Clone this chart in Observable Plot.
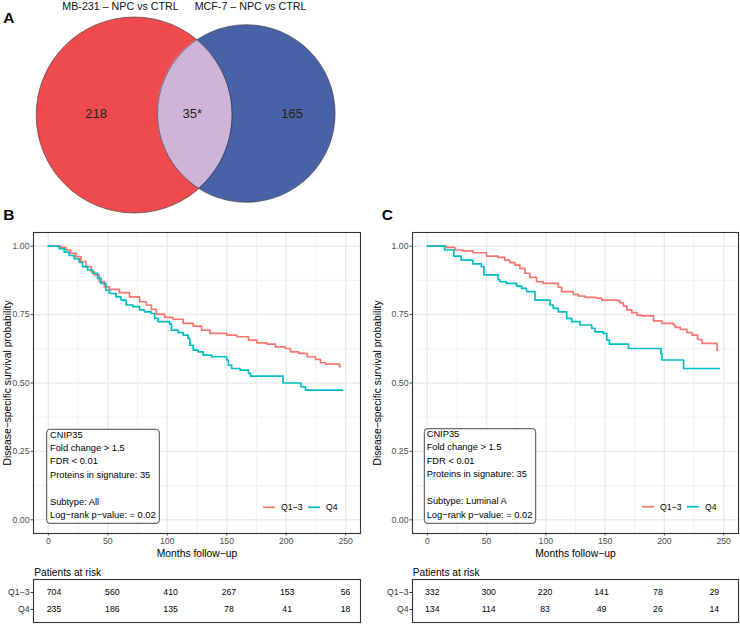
<!DOCTYPE html>
<html><head><meta charset="utf-8">
<script src="https://cdn.jsdelivr.net/npm/d3@7"></script>
<script src="https://cdn.jsdelivr.net/npm/@observablehq/plot@0.6"></script>
<style>
body{margin:0;background:#fff;font-family:"Liberation Sans",Arial,sans-serif;}
#root{position:relative;width:740px;height:624px;overflow:hidden;background:#fff;}
#root svg{position:absolute;}
</style></head><body><div id="root"></div>
<script>
// ---------------- DATA ----------------
const vennTitles = ["MB-231 – NPC vs CTRL", "MCF-7 – NPC vs CTRL"];
const vennLabels = ["218", "35*", "165"];
const groups = ["Q1−3", "Q4"];
const groupColors = ["#F8766D", "#00BFC4"];
const xTicks = [0, 50, 100, 150, 200, 250];
const xMinorTicks = [25, 75, 125, 175, 225];
const yTicks = [0, 0.25, 0.5, 0.75, 1];
const yMinorTicks = [0.125, 0.375, 0.625, 0.875];

// Kaplan-Meier steps [months, survival]
const kmB_Q13 = [[0,1],[10.5,0.996],[14.7,0.986],[18.9,0.974],[23.2,0.962],[27.4,0.944],[31.6,0.925],[35.9,0.907],[38.6,0.894],[42.9,0.870],[47.1,0.851],[51.3,0.842],[59.8,0.830],[68.2,0.815],[76.7,0.797],[82.4,0.785],[86.6,0.769],[90.8,0.752],[97.8,0.740],[104.9,0.733],[113.3,0.718],[121.8,0.708],[128.9,0.693],[135.9,0.681],[150,0.675],[158.5,0.669],[168.3,0.657],[175.4,0.647],[183.8,0.642],[190.9,0.632],[199.3,0.626],[203.5,0.614],[210.6,0.608],[217.7,0.596],[224.7,0.586],[228.9,0.574],[233.1,0.569],[244.9,0.559],[245.6,0.559]];
const kmB_Q4 = [[0,1],[9,0.991],[13.3,0.978],[17.5,0.966],[21.7,0.954],[26,0.941],[28.8,0.925],[33,0.913],[37.2,0.901],[41.4,0.882],[44.3,0.864],[48.5,0.839],[51.3,0.827],[57,0.815],[61.2,0.803],[65.4,0.785],[71,0.779],[76.7,0.767],[80.9,0.760],[86.6,0.754],[89.4,0.736],[92.2,0.724],[102.1,0.715],[103.5,0.693],[109.1,0.684],[113.3,0.675],[117.5,0.663],[119,0.638],[121.8,0.620],[126,0.614],[130.2,0.602],[137.3,0.596],[150,0.584],[151.4,0.565],[154.2,0.553],[161.3,0.547],[168.3,0.535],[170,0.525],[197.4,0.500],[212.5,0.486],[216.2,0.474],[247.5,0.474]];
const kmC_Q13 = [[0,1],[16.1,0.996],[23.1,0.986],[30,0.983],[38.6,0.976],[49.9,0.964],[59.7,0.959],[65.4,0.949],[69.6,0.940],[73.8,0.931],[78.1,0.919],[82.3,0.901],[86.5,0.886],[92.2,0.870],[97.8,0.864],[110.5,0.850],[113.3,0.834],[123.1,0.824],[127.4,0.818],[133,0.813],[142.9,0.810],[147.2,0.803],[160,0.801],[162.6,0.793],[165.4,0.781],[168.3,0.767],[172.5,0.757],[176.8,0.748],[181,0.745],[190.8,0.727],[197.9,0.718],[207.7,0.712],[209.1,0.703],[213.4,0.696],[219,0.684],[223.3,0.675],[228,0.659],[231.7,0.645],[244.4,0.620],[245,0.620]];
const kmC_Q4 = [[0,1],[14.6,0.986],[22.3,0.964],[28.5,0.949],[38.5,0.935],[45.6,0.925],[47.7,0.895],[59.7,0.879],[61.1,0.870],[66.7,0.864],[75.3,0.854],[79.5,0.846],[83.7,0.834],[90.8,0.803],[103.4,0.785],[106.2,0.773],[110.5,0.760],[117.6,0.736],[121.8,0.724],[128.8,0.712],[138.7,0.700],[141.5,0.687],[148.5,0.681],[151.4,0.657],[153.6,0.642],[169.7,0.626],[197.1,0.608],[197.9,0.584],[216.2,0.553],[246.4,0.553]];

// Patients at risk
const riskTimes = [0, 50, 100, 150, 200, 250];
const riskB_Q13 = [704, 560, 410, 267, 153, 56];
const riskB_Q4 = [235, 186, 135, 78, 41, 18];
const riskC_Q13 = [332, 300, 220, 141, 78, 29];
const riskC_Q4 = [134, 114, 83, 49, 26, 14];

const notesB = ["CNIP35", "Fold change > 1.5", "FDR < 0.01", "Proteins in signature: 35", "", "Subtype: All", "Log−rank p−value: = 0.02"];
const notesC = ["CNIP35", "Fold change > 1.5", "FDR < 0.01", "Proteins in signature: 35", "", "Subtype: Luminal A", "Log−rank p−value: = 0.02"];

// ---------------- LAYOUT ----------------
const FONT = "Liberation Sans, Arial, sans-serif";
const root = document.getElementById("root");
function place(el, left, top) { el.style.left = left + "px"; el.style.top = top + "px"; root.appendChild(el); }

// Venn geometry (layout)
const vennCircles = [
  {cx: 133.7, cy: 114.5, r: 98, fill: "#ef4a4d"},
  {cx: 245.8, cy: 113, r: 88.8, fill: "#4862a8"}
];
const vennLabelPos = [[95.7, 113], [191.7, 113], [291.7, 113]];
const vennTitlePos = [[120, 9.5], [250, 9.5]];

function lensPoints() {
  const [a, b] = vennCircles;
  const x0 = b.cx - b.r, x1 = a.cx + a.r, pts = [];
  for (let i = 0; i <= 200; i++) {
    const x = x0 + (x1 - x0) * i / 200;
    const ha = Math.sqrt(Math.max(0, a.r * a.r - (x - a.cx) ** 2));
    const hb = Math.sqrt(Math.max(0, b.r * b.r - (x - b.cx) ** 2));
    const top = Math.max(a.cy - ha, b.cy - hb), bot = Math.min(a.cy + ha, b.cy + hb);
    pts.push({x, y1: top, y2: Math.max(top, bot)});
  }
  return pts;
}

const venn = Plot.plot({
  width: 370, height: 215, margin: 0,
  style: {fontFamily: FONT, background: "transparent"},
  x: {domain: [0, 370], range: [0, 370], axis: null},
  y: {domain: [0, 215], range: [0, 215], axis: null},
  r: {type: "identity"},
  marks: [
    Plot.dot(vennCircles, {x: "cx", y: "cy", r: "r", fill: "fill", stroke: "none", fillOpacity: 1}),
    Plot.areaY(lensPoints(), {x: "x", y1: "y1", y2: "y2", fill: "#cfb4d7"}),
    Plot.dot(vennCircles, {x: "cx", y: "cy", r: "r", fill: "none", stroke: "#333", strokeWidth: 0.6}),
    Plot.text(vennLabels, {x: (d, i) => vennLabelPos[i][0], y: (d, i) => vennLabelPos[i][1], text: d => d, fontSize: 13, fill: "#222"}),
    Plot.text(vennTitles, {x: (d, i) => vennTitlePos[i][0], y: (d, i) => vennTitlePos[i][1], text: d => d, fontSize: 10.7, fill: "#111", lineAnchor: "bottom"})
  ]
});
place(venn, 0, 0);

function kmPlot(q13, q4, marginLeft, marginRight) {
  const rows = [
    ...q13.map(([t, s]) => ({t, s, g: groups[0]})),
    ...q4.map(([t, s]) => ({t, s, g: groups[1]}))
  ];
  return Plot.plot({
    width: 370, height: 335, marginLeft, marginRight, marginTop: 7, marginBottom: 27,
    style: {fontFamily: FONT, fontSize: "8.7px", color: "#4d4d4d", background: "transparent", overflow: "visible"},
    x: {domain: [-12.5, 262.5], ticks: xTicks, tickFormat: d => String(d), tickSize: 2.5, tickPadding: 2, label: null},
    y: {domain: [-0.05, 1.05], ticks: yTicks, tickFormat: d => d.toFixed(2), tickSize: 2.5, tickPadding: 1.5, label: null},
    color: {domain: groups, range: groupColors},
    marks: [
      Plot.ruleX(xMinorTicks, {stroke: "#ebebeb", strokeWidth: 0.7}),
      Plot.ruleY(yMinorTicks, {stroke: "#ebebeb", strokeWidth: 0.7}),
      Plot.ruleX(xTicks, {stroke: "#ebebeb", strokeWidth: 1.4}),
      Plot.ruleY(yTicks, {stroke: "#ebebeb", strokeWidth: 1.4}),
      Plot.line(rows, {x: "t", y: "s", z: "g", stroke: "g", curve: "step-after", strokeWidth: 1.7}),
      Plot.frame({stroke: "#333", strokeWidth: 1.1}),
      Plot.text(["Months follow−up"], {text: d => d, frameAnchor: "bottom", dy: 20, lineAnchor: "middle", textAnchor: "middle", fontSize: 10.3, fill: "black"}),
      Plot.text(["Disease−specific survival probability"], {text: d => d, frameAnchor: "left", rotate: -90, dx: -26 - (marginLeft - 33), textAnchor: "middle", lineAnchor: "middle", fontSize: 10.3, fill: "black"})
    ]
  });
}
place(kmPlot(kmB_Q13, kmB_Q4, 33, 10), 0, 225);
place(kmPlot(kmC_Q13, kmC_Q4, 42, 2), 370, 225);

function riskPlot(q13, q4, marginLeft, marginRight, domain) {
  const rows = [
    ...riskTimes.map((t, i) => ({t, n: q13[i], g: groups[0]})),
    ...riskTimes.map((t, i) => ({t, n: q4[i], g: groups[1]}))
  ];
  return Plot.plot({
    width: 370, height: 45, marginLeft, marginRight, marginTop: 1, marginBottom: 1,
    style: {fontFamily: FONT, fontSize: "8.7px", color: "#333", background: "transparent", overflow: "visible"},
    x: {domain, axis: null},
    y: {type: "point", domain: groups, range: [14.3, 31.3], padding: 0, tickSize: 2.5, tickPadding: 1.5, label: null},
    marks: [
      Plot.frame({stroke: "#333", strokeWidth: 1.1}),
      Plot.text(rows, {x: "t", y: "g", text: d => String(d.n), fontSize: 8.7, fill: "black"})
    ]
  });
}
place(riskPlot(riskB_Q13, riskB_Q4, 33, 10, [-17.6, 262.9]), 0, 578);
place(riskPlot(riskC_Q13, riskC_Q4, 42, 2, [-17.5, 271.4]), 370, 578);

// ---------------- OVERLAY (letters, notes, legends) ----------------
const ov = d3.create("svg").attr("width", 740).attr("height", 624)
  .style("font-family", FONT).style("pointer-events", "none");
[["A", 3.3, 22.7], ["B", 3.3, 220], ["C", 381.7, 220]].forEach(([t, x, y]) =>
  ov.append("text").attr("x", x).attr("y", y).attr("font-size", 15.5).attr("font-weight", "bold").attr("fill", "black").text(t));
[[34.3], [412.7]].forEach(([x]) =>
  ov.append("text").attr("x", x).attr("y", 575.6).attr("font-size", 10.2).attr("fill", "black").text("Patients at risk"));

function note(lines, bx, by, bw, bh, tx) {
  ov.append("rect").attr("x", bx).attr("y", by).attr("width", bw).attr("height", bh)
    .attr("rx", 3).attr("fill", "white").attr("stroke", "#333").attr("stroke-width", 0.9);
  lines.forEach((l, i) => {
    if (!l) return;
    ov.append("text").attr("x", tx).attr("y", by + 5 + i * 13.45).attr("dy", "0.35em")
      .attr("font-size", 9.3).attr("fill", "black").text(l);
  });
}
note(notesB, 46.7, 429.3, 112.6, 94, 50);
note(notesC, 424.3, 428.7, 111.4, 94.6, 426.7);

function legend(x0, y) {
  const items = [[x0, groups[0], groupColors[0]], [x0 + 45, groups[1], groupColors[1]]];
  items.forEach(([x, label, c]) => {
    ov.append("line").attr("x1", x).attr("x2", x + 12).attr("y1", y).attr("y2", y).attr("stroke", c).attr("stroke-width", 1.7);
    ov.append("text").attr("x", x + 18).attr("y", y).attr("dy", "0.35em").attr("font-size", 8.7).attr("fill", "black").text(label);
  });
}
legend(263, 507.3);
legend(642, 506.7);
place(ov.node(), 0, 0);
</script></body></html>
